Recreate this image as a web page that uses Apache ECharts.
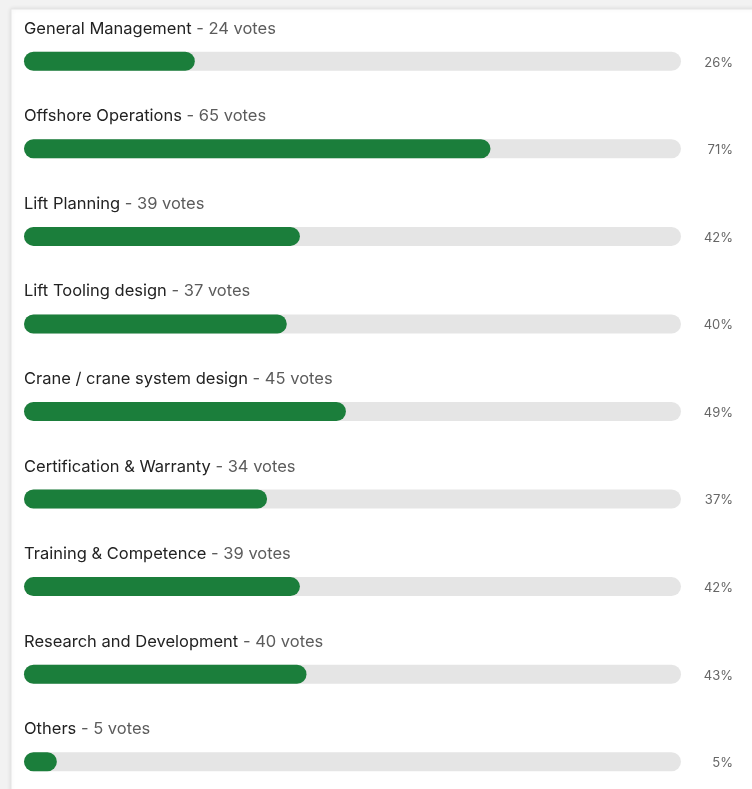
<!DOCTYPE html>
<html>
<head>
<meta charset="utf-8">
<script src="https://cdn.jsdelivr.net/npm/echarts@6/dist/echarts.min.js"></script>
<style>
  html, body { margin: 0; padding: 0; background: #f2f2f2; overflow: hidden; }
  #chart { width: 752px; height: 810px; }
</style>
</head>
<body>
<div id="chart"></div>
<script>
// Poll options, vote counts and share of respondents (%)
const categories = [
  'General Management',
  'Offshore Operations',
  'Lift Planning',
  'Lift Tooling design',
  'Crane / crane system design',
  'Certification & Warranty',
  'Training & Competence',
  'Research and Development',
  'Others'
];
const votes = [24, 65, 39, 37, 45, 34, 39, 40, 5];
const percents = [26, 71, 42, 40, 49, 37, 42, 43, 5];
const trackValues = categories.map(() => 100);

const chart = echarts.init(document.getElementById('chart'), null, { renderer: 'canvas' });

const FONT = 'Inter, "Noto Sans", sans-serif';

chart.setOption({
  backgroundColor: '#f2f2f2',
  animation: false,
  graphic: [
    {
      type: 'rect',
      z: -10,
      silent: true,
      shape: { x: 11, y: 9, width: 760, height: 820 },
      style: {
        fill: '#ffffff',
        stroke: '#e6e6e6',
        lineWidth: 1,
        shadowBlur: 4,
        shadowColor: 'rgba(0,0,0,0.10)'
      }
    }
  ],
  grid: { left: 24, top: 17.5, width: 657, height: 788, containLabel: false },
  xAxis: {
    type: 'value',
    min: 0,
    max: 100,
    show: false
  },
  yAxis: {
    type: 'category',
    data: categories,
    inverse: true,
    show: false
  },
  series: [
    {
      // Grey track showing the full 100% scale, with the percentage at its right
      name: 'track',
      type: 'bar',
      data: trackValues,
      barWidth: 19,
      barGap: '-100%',
      z: 2,
      silent: true,
      itemStyle: { color: '#e5e5e5', borderRadius: 9.5 },
      label: {
        show: true,
        position: ['100%', '50%'],
        offset: [52, 1.5],
        align: 'right',
        verticalAlign: 'middle',
        color: '#666666',
        fontFamily: FONT,
        fontSize: 13,
        formatter: p => percents[p.dataIndex] + '%'
      }
    },
    {
      // Green fill for each option's share, with the option title above it
      name: 'share',
      type: 'bar',
      data: percents,
      barWidth: 19,
      barGap: '-100%',
      z: 3,
      silent: true,
      itemStyle: { color: '#1b7e3b', borderRadius: 9.5 },
      label: {
        show: true,
        position: [0, '50%'],
        offset: [0, -32.5],
        align: 'left',
        verticalAlign: 'middle',
        formatter: p => '{n|' + categories[p.dataIndex] + '}{v| - ' + votes[p.dataIndex] + ' votes}',
        rich: {
          n: { color: '#222222', fontFamily: FONT, fontSize: 16.5 },
          v: { color: '#5c5c5c', fontFamily: FONT, fontSize: 16.5 }
        }
      }
    }
  ]
});
</script>
</body>
</html>
